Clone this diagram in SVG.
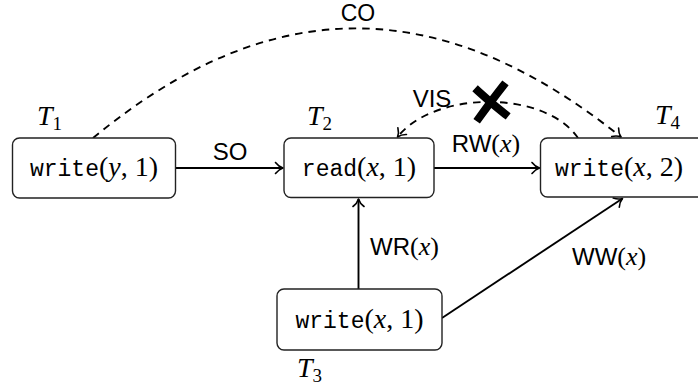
<svg xmlns="http://www.w3.org/2000/svg" width="698" height="391" viewBox="0 0 698 391">
  <style>
    .box { fill: #ffffff; stroke: #222222; stroke-width: 1.4; }
    .tt { font-family: "Liberation Mono", "DejaVu Sans Mono", monospace; font-size: 23px; }
    .mr { font-family: "Liberation Serif", "DejaVu Serif", serif; font-size: 28px; }
    .mi { font-family: "Liberation Serif", "DejaVu Serif", serif; font-style: italic; }
    .lm { font-family: "Liberation Serif", "DejaVu Serif", serif; font-size: 26px; }
    .lbl { font-family: "Liberation Sans", "DejaVu Sans", sans-serif; font-size: 24px; fill: #000000; }
    .tname { font-family: "Liberation Serif", "DejaVu Serif", serif; font-style: italic; font-size: 28px; }
    .sub { font-style: normal; font-size: 19px; }
    .edge { fill: none; stroke: #000000; stroke-width: 1.9; }
    .dash { stroke-dasharray: 7.5 6; }
  </style>
  <defs>
    <marker id="to" viewBox="-10 -7 12 14" markerWidth="12" markerHeight="14" refX="0" refY="0" orient="auto" markerUnits="userSpaceOnUse">
      <path d="M -7.5,-5.5 C -5,-2.2 -2,-0.6 0,0 C -2,0.6 -5,2.2 -7.5,5.5" fill="none" stroke="#000000" stroke-width="1.6" stroke-linecap="round" stroke-linejoin="round"/>
    </marker>
  </defs>

  <!-- connectors -->
  <g id="edges">
    <path class="edge" d="M175.5,168 L283,168" marker-end="url(#to)"/>
    <path class="edge" d="M434,168 L539.5,168" marker-end="url(#to)"/>
    <path class="edge" d="M358.5,289 L358.5,199" marker-end="url(#to)"/>
    <path class="edge" d="M442,318 L622.5,198.5" marker-end="url(#to)"/>
    <path class="edge dash" d="M93,138 C270,-8 440,-8 621,137" marker-end="url(#to)"/>
    <path class="edge dash" d="M578,138 C545,90 435,90 397.5,137" marker-end="url(#to)"/>
    <!-- labels -->
    <text class="lbl" x="358" y="21" text-anchor="middle" style="font-size:23px">CO</text>
    <text class="lbl" x="230" y="160" text-anchor="middle">SO</text>
    <text class="lbl" x="432" y="106.5" text-anchor="middle">VIS</text>
    <text class="lbl" x="486" y="152" text-anchor="middle">RW<tspan class="lm">(</tspan><tspan class="lm mi">x</tspan><tspan class="lm">)</tspan></text>
    <text class="lbl" x="370" y="255">WR<tspan class="lm">(</tspan><tspan class="lm mi">x</tspan><tspan class="lm">)</tspan></text>
    <text class="lbl" x="572" y="265">WW<tspan class="lm">(</tspan><tspan class="lm mi">x</tspan><tspan class="lm">)</tspan></text>
    <!-- struck-out mark on the VIS edge -->
    <g stroke="#000000" stroke-width="8" stroke-linecap="square" fill="none">
      <path d="M503,86 Q492,100 479,118"/>
      <path d="M478,91 Q492,104 505,114"/>
    </g>
  </g>

  <g id="T1">
    <rect class="box" x="12.5" y="138" width="163" height="60" rx="7"/>
    <text x="94" y="176" text-anchor="middle"><tspan class="tt">write</tspan><tspan class="mr">(</tspan><tspan class="mr mi">y</tspan><tspan class="mr">, 1)</tspan></text>
    <text class="tname" x="37" y="125">T<tspan class="sub" dy="5">1</tspan></text>
  </g>

  <g id="T2">
    <rect class="box" x="284" y="138" width="150" height="59.5" rx="7"/>
    <text x="359" y="176" text-anchor="middle"><tspan class="tt">read</tspan><tspan class="mr">(</tspan><tspan class="mr mi">x</tspan><tspan class="mr">, 1)</tspan></text>
    <text class="tname" x="307" y="125">T<tspan class="sub" dy="5">2</tspan></text>
  </g>

  <g id="T4">
    <rect class="box" x="540.5" y="138" width="170" height="59" rx="7"/>
    <text x="619" y="176" text-anchor="middle"><tspan class="tt">write</tspan><tspan class="mr">(</tspan><tspan class="mr mi">x</tspan><tspan class="mr">, 2)</tspan></text>
    <text class="tname" x="655" y="124">T<tspan class="sub" dy="5">4</tspan></text>
  </g>

  <g id="T3">
    <rect class="box" x="277" y="289" width="165" height="61" rx="7"/>
    <text x="359.5" y="328" text-anchor="middle"><tspan class="tt">write</tspan><tspan class="mr">(</tspan><tspan class="mr mi">x</tspan><tspan class="mr">, 1)</tspan></text>
    <text class="tname" x="297" y="377">T<tspan class="sub" dy="5">3</tspan></text>
  </g>
</svg>
